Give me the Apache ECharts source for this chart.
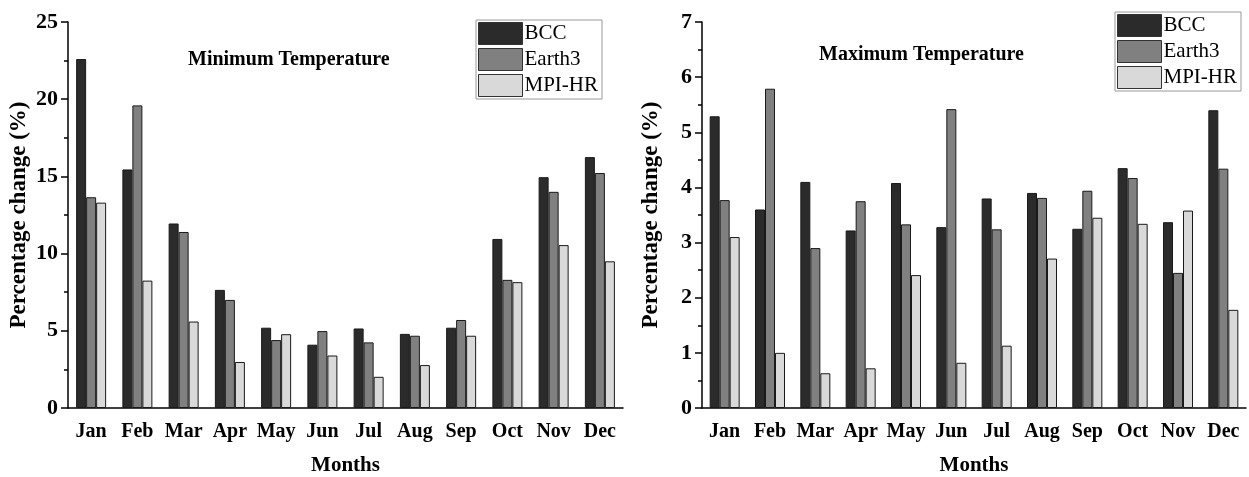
<!DOCTYPE html>
<html>
<head>
<meta charset="utf-8">
<script src="https://cdn.jsdelivr.net/npm/echarts@6/dist/echarts.min.js"></script>
<style>
  html, body { margin: 0; padding: 0; background: #fff; }
  #chart { width: 1249px; height: 477px; }
</style>
</head>
<body>
<div id="chart"></div>
<script>
const months = ['Jan', 'Feb', 'Mar', 'Apr', 'May', 'Jun', 'Jul', 'Aug', 'Sep', 'Oct', 'Nov', 'Dec']
const models = ['BCC', 'Earth3', 'MPI-HR']

// minimum temperature, percentage change
const minBCC = [22.6, 15.45, 11.95, 7.65, 5.2, 4.1, 5.15, 4.8, 5.2, 10.95, 14.95, 16.25]
const minEarth3 = [13.65, 19.6, 11.4, 7.0, 4.4, 4.98, 4.25, 4.68, 5.7, 8.3, 14.0, 15.22]
const minMPI = [13.3, 8.25, 5.6, 2.98, 4.78, 3.4, 2.02, 2.78, 4.68, 8.15, 10.55, 9.5]

// maximum temperature, percentage change
const maxBCC = [5.29, 3.6, 4.1, 3.22, 4.08, 3.28, 3.8, 3.9, 3.25, 4.35, 3.37, 5.4]
const maxEarth3 = [3.77, 5.79, 2.9, 3.75, 3.33, 5.42, 3.24, 3.81, 3.94, 4.17, 2.45, 4.34]
const maxMPI = [3.1, 1.0, 0.63, 0.72, 2.41, 0.82, 1.13, 2.71, 3.45, 3.34, 3.58, 1.78]

const colors = ['#2b2b2b', '#808080', '#d9d9d9']
const font = 'Liberation Serif, Times New Roman, serif'

const mainX = (grid) => ({
  type: 'category',
  gridIndex: grid,
  data: months,
  name: 'Months',
  nameLocation: 'middle',
  nameGap: 47,
  nameTextStyle: { fontFamily: font, fontWeight: 'bold', fontSize: 21, color: '#000' },
  axisLine: { lineStyle: { color: '#000', width: 1.5 } },
  axisTick: { alignWithLabel: true, interval: 0, length: 7, lineStyle: { color: '#000', width: 1.5 } },
  axisLabel: { interval: 0, fontFamily: font, fontWeight: 'bold', fontSize: 20, color: '#000', margin: 14 }
})

// second axis on the same grid only for the short ticks between months
const edgeX = (grid) => ({
  type: 'category',
  gridIndex: grid,
  data: months,
  axisLine: { show: false },
  axisTick: { interval: 0, length: 4, lineStyle: { color: '#000', width: 1.5 } },
  axisLabel: { show: false }
})

const yAx = (grid, max, step, gap) => ({
  type: 'value',
  gridIndex: grid,
  min: 0,
  max: max,
  interval: step,
  name: 'Percentage change (%)',
  nameLocation: 'middle',
  nameGap: gap,
  nameTextStyle: { fontFamily: font, fontWeight: 'bold', fontSize: 23, color: '#000' },
  axisLine: { show: true, lineStyle: { color: '#000', width: 1.5 } },
  axisTick: { show: true, length: 7, lineStyle: { color: '#000', width: 1.5 } },
  minorTick: { show: true, splitNumber: 2, length: 4, lineStyle: { color: '#000', width: 1.5 } },
  splitLine: { show: false },
  axisLabel: { fontFamily: font, fontWeight: 'bold', fontSize: 22, color: '#000', margin: 10 }
})

const bars = (name, data, idx, xi, yi) => ({
  name: name,
  type: 'bar',
  xAxisIndex: xi,
  yAxisIndex: yi,
  data: data,
  barWidth: 10,
  barGap: '0%',
  itemStyle: { color: colors[idx], borderColor: '#1a1a1a', borderWidth: 1 }
})

const legend = (left, top) => ({
  data: models,
  orient: 'vertical',
  left: left,
  top: top,
  icon: 'rect',
  itemWidth: 44,
  itemHeight: 22,
  itemGap: 3,
  padding: [2, 4, 2, 2],
  borderColor: '#999',
  borderWidth: 1,
  selectedMode: false,
  itemStyle: { borderColor: '#333', borderWidth: 1 },
  textStyle: { fontFamily: font, fontSize: 21, color: '#000', padding: [0, 0, 0, -3] }
})

const chart = echarts.init(document.getElementById('chart'))

chart.setOption({
  animation: false,
  backgroundColor: '#fff',
  title: [
    { text: 'Minimum Temperature', left: 183, top: 45, textStyle: { fontFamily: font, fontWeight: 'bold', fontSize: 20, color: '#000' } },
    { text: 'Maximum Temperature', left: 814, top: 40, textStyle: { fontFamily: font, fontWeight: 'bold', fontSize: 20, color: '#000' } }
  ],
  legend: [legend(476, 20), legend(1115, 12)],
  grid: [
    { left: 68, top: 22, width: 555, height: 386, outerBoundsMode: 'none' },
    { left: 702, top: 22, width: 544, height: 386, outerBoundsMode: 'none' }
  ],
  xAxis: [mainX(0), edgeX(0), mainX(1), edgeX(1)],
  yAxis: [yAx(0, 25, 5, 37), yAx(1, 7, 1, 39)],
  series: [
    bars('BCC', minBCC, 0, 0, 0),
    bars('Earth3', minEarth3, 1, 0, 0),
    bars('MPI-HR', minMPI, 2, 0, 0),
    bars('BCC', maxBCC, 0, 2, 1),
    bars('Earth3', maxEarth3, 1, 2, 1),
    bars('MPI-HR', maxMPI, 2, 2, 1)
  ]
})
</script>
</body>
</html>
